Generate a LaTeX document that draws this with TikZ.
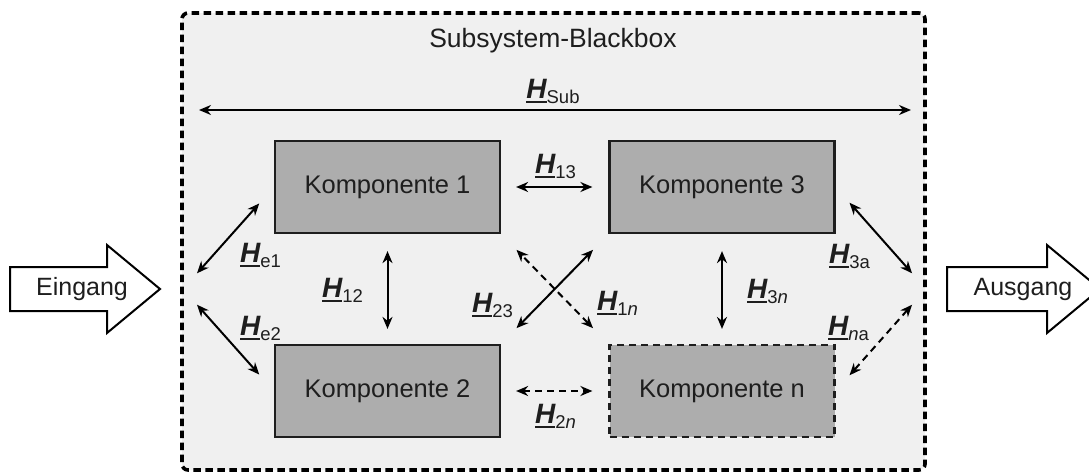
\documentclass[tikz,border=0pt]{standalone}
\usepackage{fontspec}
\setmainfont{Liberation Sans}
\usetikzlibrary{arrows.meta}

\definecolor{boxfill}{HTML}{F0F0F0}
\definecolor{compfill}{HTML}{ADADAD}
\definecolor{inkcol}{HTML}{1E1E1E}

% transfer function symbol: underlined bold italic H with a lowered index
\newsavebox\hletterbox
\newcommand\Hlab[1]{%
  \sbox\hletterbox{\fontsize{28}{28}\selectfont\bfseries\itshape H}%
  \rlap{\rule[-4.5pt]{\wd\hletterbox}{1.8pt}}\usebox\hletterbox
  \raisebox{-5pt}{\fontsize{18.5}{18.5}\selectfont #1}}

\begin{document}
\begin{tikzpicture}[x=1pt,y=-1pt,
  bigbox/.style={draw=black, line width=3.6pt, dash pattern=on 7.5pt off 4.5pt,
    rounded corners=6pt, fill=boxfill, minimum width=743pt, minimum height=457pt},
  comp/.style={draw=inkcol, line width=2.2pt, fill=compfill,
    minimum width=225pt, minimum height=92pt, inner sep=0pt,
    font=\fontsize{25.5}{25.5}\selectfont, text=inkcol},
  link/.style={<->, >={Stealth[length=12pt,width=10pt]}, line width=2pt, draw=black},
  optlink/.style={link, dash pattern=on 7pt off 5pt},
  flowarrow/.style={draw=black, line width=2pt, fill=white},
  lbl/.style={anchor=base west, inner sep=0pt, text=inkcol},
  plain/.style={font=\fontsize{25}{25}\selectfont, text=inkcol, inner sep=0pt}
]
\useasboundingbox (0,0) rectangle (1089,474);
\clip (0,0) rectangle (1089,474);

% subsystem boundary
\node[bigbox] (bb) at (553.5,241.5) {};
\node[plain, anchor=base, font=\fontsize{26.5}{26.5}\selectfont] (title) at (553,47) {Subsystem-Blackbox};

% components
\node[comp] (k1) at (387.5,187) {Komponente 1};
\node[comp] (k3) at (722,187) {Komponente 3};
\node[comp] (k2) at (387.5,391) {Komponente 2};
\node[comp, dash pattern=on 7pt off 5pt] (kn) at (722,391) {Komponente n};

% ports on the boundary
\coordinate (ein) at (183,289);
\coordinate (aus) at (926,289);
\coordinate (subL) at (199,110);
\coordinate (subR) at (911,110);

% input and output block arrows
\draw[flowarrow] (10,267) -- (107,267) -- (107,245) -- (160,289) -- (107,333)
  -- (107,311) -- (10,311) -- cycle;
\node[plain] (eingang) at (82,289) {Eingang};
\draw[flowarrow] (947,267) -- (1047,267) -- (1047,245) -- (1100,289) -- (1047,333)
  -- (1047,311) -- (947,311) -- cycle;
\node[plain] (ausgang) at (1023,289) {Ausgang};

% overall transfer
\draw[link] (subL) -- (subR);
\node[lbl, anchor=base] (hsub) at (553,98) {\Hlab{Sub}};

% couplings between components
\draw[link, shorten <=15pt, shorten >=16pt] (k1.east) -- (k3.west);
\draw[link, shorten <=17pt, shorten >=15pt] (k1.south) -- (k2.north);
\draw[link, shorten <=17pt, shorten >=15pt] (k3.south) -- (kn.north);
\draw[optlink, shorten <=15pt, shorten >=16pt] (k2.east) -- (kn.west);
\draw[link, shorten <=22pt, shorten >=22pt] (k2.north east) -- (k3.south west);
\draw[optlink, shorten <=22pt, shorten >=22pt] (kn.north west) -- (k1.south east);

% couplings to input and output
\draw[link, shorten <=21pt, shorten >=22pt] (ein) -- (k1.west);
\draw[link, shorten <=21pt, shorten >=22pt] (ein) -- (k2.west);
\draw[link, shorten <=21pt, shorten >=21pt] (aus) -- (k3.east);
\draw[optlink, shorten <=21pt, shorten >=21pt] (aus) -- (kn.east);

% labels
\node[lbl] (h13) at (535,173) {\Hlab{13}};
\node[lbl] (he1) at (240,262) {\Hlab{e1}};
\node[lbl] (he2) at (240,335) {\Hlab{e2}};
\node[lbl] (h12) at (322,297) {\Hlab{12}};
\node[lbl] (h23) at (472,312) {\Hlab{23}};
\node[lbl] (h1n) at (597,310) {\Hlab{1\textit{n}}};
\node[lbl] (h3n) at (747,298) {\Hlab{3\textit{n}}};
\node[lbl] (h3a) at (829,263) {\Hlab{3a}};
\node[lbl] (hna) at (828,335) {\Hlab{\textit{n}a}};
\node[lbl] (h2n) at (535,423) {\Hlab{2\textit{n}}};
\end{tikzpicture}
\end{document}
